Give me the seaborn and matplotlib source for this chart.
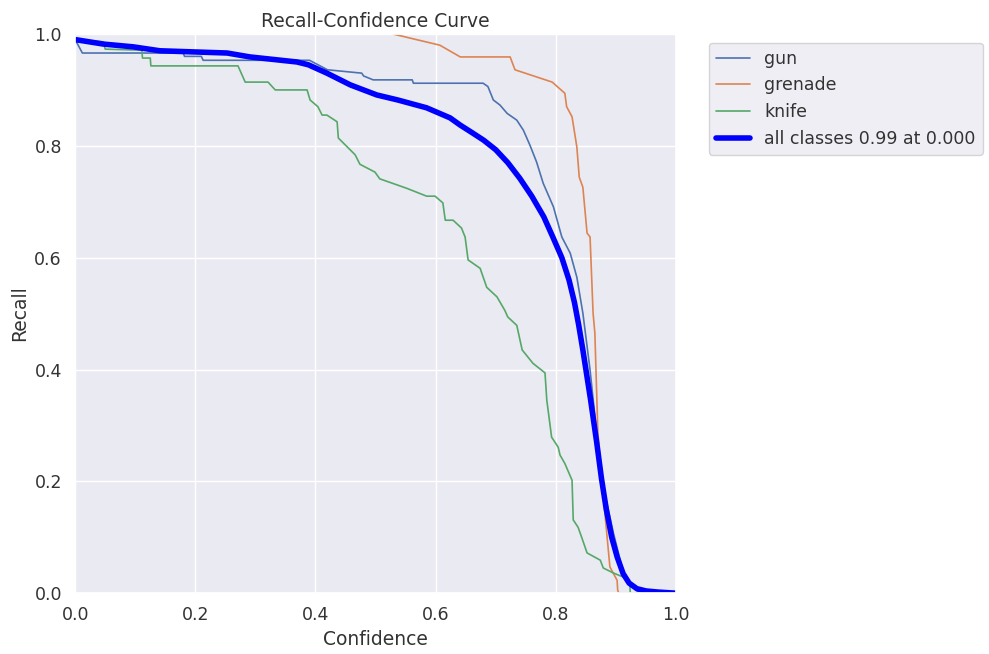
import numpy as np
import pandas as pd
import matplotlib
matplotlib.use("Agg")
import matplotlib.pyplot as plt
import seaborn as sns

# valores (confianza, recall)
gun_x = [0.0, 0.005, 0.012, 0.18, 0.182, 0.21, 0.213, 0.39, 0.42, 0.477, 0.48, 0.496, 0.561, 0.563,
         0.679, 0.687, 0.696, 0.707, 0.719, 0.735, 0.746, 0.757, 0.768, 0.779, 0.796, 0.810, 0.824,
         0.835, 0.845, 0.857, 0.868, 0.879, 0.896, 0.910, 0.920, 0.94, 1.0]
gun_y = [0.99, 0.98, 0.966, 0.966, 0.96, 0.96, 0.953, 0.953, 0.936, 0.93, 0.925, 0.918, 0.918, 0.912,
         0.912, 0.906, 0.882, 0.873, 0.858, 0.846, 0.828, 0.801, 0.771, 0.733, 0.691, 0.637, 0.608,
         0.565, 0.501, 0.399, 0.286, 0.19, 0.107, 0.047, 0.018, 0.0, 0.0]

grenade_x = [0.529, 0.607, 0.641, 0.724, 0.732, 0.794, 0.815, 0.818, 0.827, 0.835, 0.839, 0.845,
             0.852, 0.857, 0.862, 0.865, 0.870, 0.877, 0.890, 0.902, 0.903, 0.905, 1.0]
grenade_y = [1.0, 0.98, 0.959, 0.959, 0.936, 0.914, 0.894, 0.87, 0.852, 0.798, 0.744, 0.726,
             0.644, 0.637, 0.501, 0.465, 0.286, 0.197, 0.047, 0.023, 0.005, 0.0, 0.0]

knife_x = [0.0, 0.047, 0.05, 0.111, 0.112, 0.125, 0.126, 0.271, 0.283, 0.321, 0.333, 0.386, 0.391,
           0.404, 0.411, 0.419, 0.436, 0.438, 0.466, 0.474, 0.499, 0.507, 0.552, 0.585, 0.599, 0.612,
           0.616, 0.629, 0.643, 0.649, 0.654, 0.674, 0.685, 0.702, 0.715, 0.72, 0.735, 0.744, 0.762,
           0.782, 0.785, 0.793, 0.804, 0.807, 0.815, 0.827, 0.829, 0.837, 0.843, 0.852, 0.874, 0.879,
           0.896, 0.912, 0.923, 0.924, 1.0]
knife_y = [0.99, 0.986, 0.973, 0.971, 0.957, 0.957, 0.943, 0.943, 0.914, 0.914, 0.900, 0.900, 0.882,
           0.870, 0.855, 0.855, 0.843, 0.814, 0.784, 0.767, 0.753, 0.741, 0.724, 0.71, 0.71, 0.698,
           0.667, 0.667, 0.653, 0.637, 0.596, 0.581, 0.547, 0.53, 0.506, 0.494, 0.479, 0.435, 0.411,
           0.394, 0.345, 0.279, 0.261, 0.247, 0.232, 0.202, 0.131, 0.118, 0.1, 0.072, 0.059, 0.045,
           0.036, 0.029, 0.02, 0.0, 0.0]

all_x = [0.0, 0.047, 0.097, 0.141, 0.253, 0.291, 0.369, 0.388, 0.419, 0.458, 0.502, 0.537, 0.585,
         0.624, 0.641, 0.66, 0.68, 0.70, 0.72, 0.74, 0.76, 0.78, 0.795, 0.81, 0.822, 0.831, 0.838,
         0.845, 0.858, 0.868, 0.876, 0.884, 0.893, 0.902, 0.912, 0.922, 0.935, 0.95, 0.97, 1.0]
all_y = [0.99, 0.982, 0.977, 0.97, 0.966, 0.959, 0.95, 0.945, 0.93, 0.909, 0.891, 0.882, 0.868,
         0.85, 0.837, 0.824, 0.81, 0.793, 0.77, 0.742, 0.71, 0.673, 0.637, 0.60, 0.56, 0.52, 0.48,
         0.435, 0.345, 0.27, 0.205, 0.15, 0.10, 0.065, 0.035, 0.018, 0.008, 0.004, 0.002, 0.0]

clases = ["gun", "grenade", "knife"]

sns.set_theme(style="darkgrid")
pal = sns.color_palette("deep")

fig, ax = plt.subplots(figsize=(9.89, 6.54), dpi=100)
fig.subplots_adjust(left=0.076, right=0.6835, top=0.948, bottom=0.093)

for i, (nombre, xs, ys) in enumerate(zip(clases, [gun_x, grenade_x, knife_x], [gun_y, grenade_y, knife_y])):
    df = pd.DataFrame({"conf": xs, "recall": ys})
    sns.lineplot(data=df, x="conf", y="recall", ax=ax, color=pal[i], linewidth=1.2,
                 label=nombre, sort=False, estimator=None)

df_all = pd.DataFrame({"conf": all_x, "recall": all_y})
sns.lineplot(data=df_all, x="conf", y="recall", ax=ax, color="blue", linewidth=4,
             label="all classes 0.99 at 0.000", sort=False, estimator=None)

ax.set_xlim(0, 1)
ax.set_ylim(0, 1)
ax.set_xlabel("Confidence", fontsize=13.5, color="#333333")
ax.set_ylabel("Recall", fontsize=13.5, color="#333333")
ax.set_title("Recall-Confidence Curve", fontsize=13.5, color="#333333", pad=5)
ax.tick_params(labelsize=12.5, labelcolor="#333333")
ax.legend(bbox_to_anchor=(1.04, 1), loc="upper left", fontsize=12.5, labelcolor="#333333")

plt.savefig("out.png", dpi=100)
